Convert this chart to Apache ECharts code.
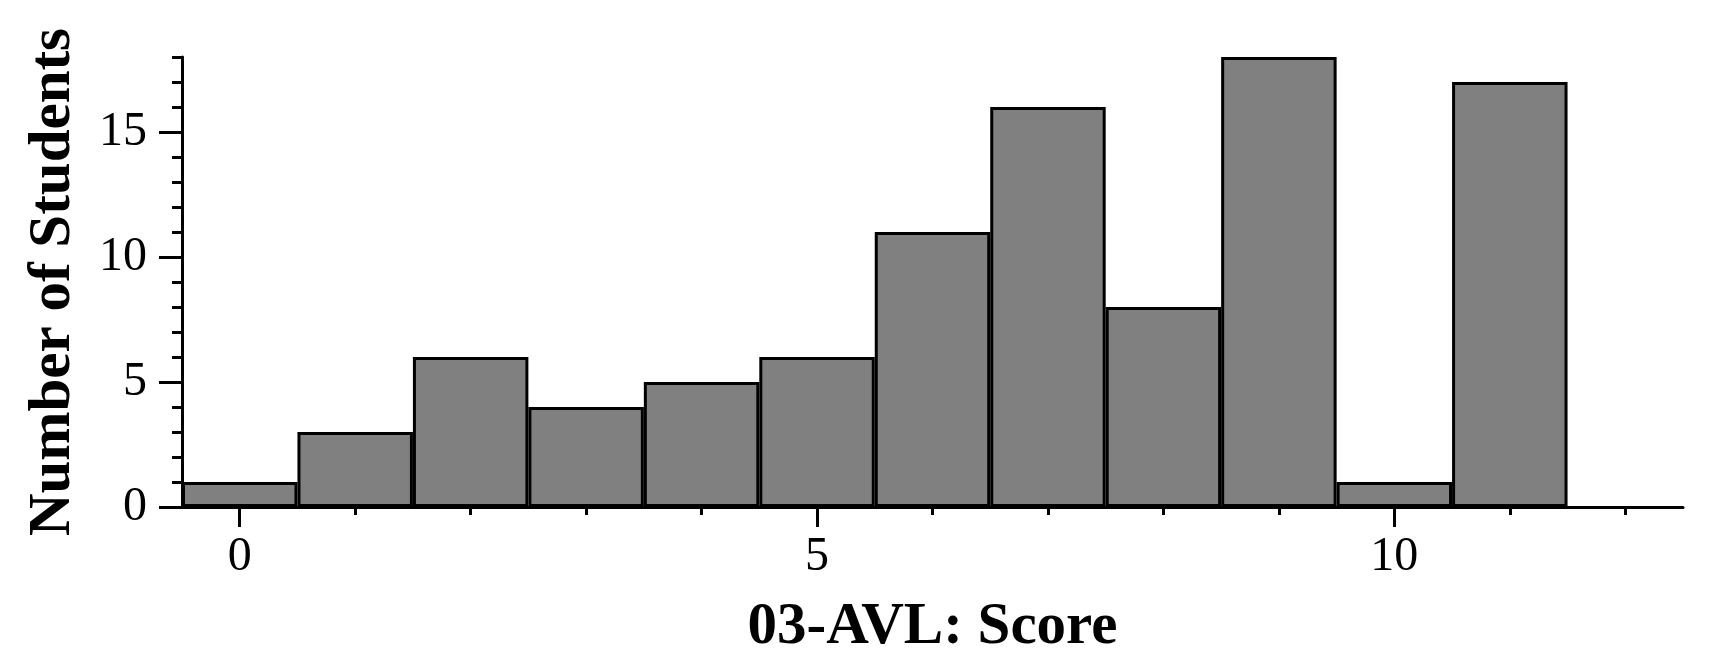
<!DOCTYPE html>
<html>
<head>
<meta charset="utf-8">
<script src="https://cdn.jsdelivr.net/npm/echarts@6/dist/echarts.min.js"></script>
<style>html,body{margin:0;padding:0;background:#fff}#c{width:1720px;height:670px}</style>
</head>
<body>
<div id="c"></div>
<script>
var categories = ['0','1','2','3','4','5','6','7','8','9','10','11','12'];
var counts = [1,3,6,4,5,6,11,16,8,18,1,17,null];
var yMajorTicks = [0,5,10,15];
var xLabelEvery = 5;
var xTitle = '03-AVL: Score';
var yTitle = 'Number of Students';

var chart = echarts.init(document.getElementById('c'), null, {renderer:'canvas'});
var serif = 'Liberation Serif, Times New Roman, serif';
var lineStyle = {color:'#000', width:3};
chart.setOption({
  animation:false,
  backgroundColor:'#fff',
  grid:{left:182,right:37,top:57,bottom:163,containLabel:false},
  xAxis:[{
    type:'category', data:categories, position:'bottom',
    boundaryGap:true,
    axisLine:{show:true,lineStyle:lineStyle},
    axisTick:{show:true,alignWithLabel:true,length:20,lineStyle:{color:'#000',width:3},
      interval:function(i){return i % xLabelEvery === 0;}},
    axisLabel:{show:true,interval:function(i){return i % xLabelEvery === 0;},
      fontFamily:serif,fontSize:48,color:'#000',margin:26},
    splitLine:{show:false},
    name:xTitle,nameLocation:'middle',nameGap:91,
    nameTextStyle:{fontFamily:serif,fontSize:59,fontWeight:'bold',color:'#000'}
  },{
    type:'category', data:categories, position:'bottom', gridIndex:0,
    boundaryGap:true,
    axisLine:{show:false},
    axisTick:{show:true,alignWithLabel:true,length:8,interval:0,lineStyle:{color:'#000',width:3}},
    axisLabel:{show:false},
    splitLine:{show:false}
  }],
  yAxis:[{
    type:'value', min:0, max:18, interval:1, position:'left',
    axisLine:{show:true,lineStyle:lineStyle},
    axisTick:{show:true,length:23,customValues:yMajorTicks,lineStyle:{color:'#000',width:3}},
    axisLabel:{show:true,customValues:yMajorTicks,fontFamily:serif,fontSize:48,color:'#000',margin:35},
    splitLine:{show:false},
    name:yTitle,nameLocation:'middle',nameGap:99,nameRotate:90,
    nameTextStyle:{fontFamily:serif,fontSize:59,fontWeight:'bold',color:'#000'}
  },{
    type:'value', min:0, max:18, interval:1, position:'left',
    axisLine:{show:false},
    axisTick:{show:true,length:10,lineStyle:{color:'#000',width:3}},
    axisLabel:{show:false},
    splitLine:{show:false}
  }],
  series:[{
    type:'bar', xAxisIndex:0, yAxisIndex:0,
    data:counts,
    barCategoryGap:'0%',
    itemStyle:{color:'#808080',borderColor:'#000',borderWidth:3}
  }]
});
</script>
</body>
</html>
